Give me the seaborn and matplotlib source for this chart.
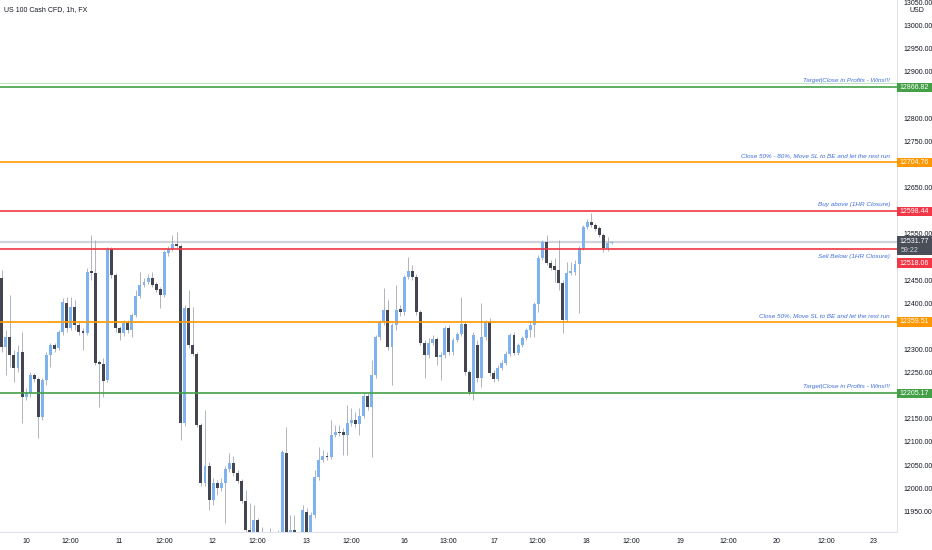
import matplotlib
matplotlib.use("Agg")
import matplotlib.pyplot as plt
import matplotlib.patches as mpatches
from matplotlib.transforms import ScaledTranslation
import pandas as pd
import seaborn as sns

# hourly candles, US 100 Cash CFD
opens = [
    12454.5, 12305.3, 12326.9, 12288.0, 12259.9, 12294.5, 12197.2, 12205.8, 12244.7, 12236.1,
    12153.9, 12233.9, 12288.0, 12309.6, 12303.1, 12337.7, 12400.4, 12346.4, 12391.8, 12352.8,
    12339.9, 12335.5, 12469.6, 12465.3, 12272.8, 12268.5, 12233.9, 12517.2, 12461.0, 12346.4,
    12335.5, 12357.2, 12342.0, 12374.5, 12415.6, 12439.4, 12445.8, 12454.5, 12441.5, 12430.7,
    12417.7, 12508.5, 12517.2, 12528.0, 12523.7, 12140.9, 12389.6, 12309.6, 12290.1, 12136.6,
    12011.2, 12048.0, 11974.5, 12011.2, 12000.4, 12011.2, 12041.5, 12054.4, 12032.8, 12015.5,
    11972.3, 11909.6, 11877.2, 11931.2, 11888.0, 11855.5, 11877.2, 11844.7, 11866.3, 11888.0,
    12076.1, 11877.2, 11909.6, 11866.3, 11888.0, 11948.5, 11898.8, 11942.0, 12024.2, 12060.9,
    12069.6, 12067.4, 12115.0, 12121.5, 12121.5, 12115.0, 12140.9, 12147.4, 12138.8, 12156.1,
    12199.3, 12175.5, 12244.7, 12326.9, 12359.3, 12385.3, 12305.3, 12352.8, 12387.4, 12380.9,
    12456.7, 12469.6, 12456.7, 12380.9, 12313.9, 12288.0, 12313.9, 12322.6, 12283.7, 12288.0,
    12346.4, 12294.5, 12320.4, 12333.4, 12355.0, 12251.2, 12208.0, 12309.6, 12238.2, 12326.9,
    12359.3, 12249.1, 12236.1, 12259.9, 12270.7, 12290.1, 12331.2, 12292.3, 12309.6, 12324.7,
    12342.0, 12352.8, 12398.2, 12497.7, 12532.3, 12486.9, 12480.4, 12471.8, 12443.7, 12363.7,
    12465.3, 12467.5, 12484.8, 12519.4, 12564.8, 12575.6, 12569.1, 12562.6, 12547.5, 12519.4,
    12530.2,
]
highs = [
    12471.8, 12342.0, 12417.7, 12298.8, 12309.6, 12337.7, 12216.6, 12251.2, 12249.1, 12240.4,
    12238.2, 12294.5, 12313.9, 12313.9, 12342.0, 12411.2, 12413.4, 12413.4, 12406.9, 12359.3,
    12346.4, 12476.1, 12547.5, 12536.6, 12277.2, 12281.5, 12521.5, 12521.5, 12465.3, 12350.7,
    12363.7, 12363.7, 12378.8, 12428.5, 12467.5, 12454.5, 12463.1, 12467.5, 12445.8, 12435.0,
    12515.0, 12523.7, 12547.5, 12554.0, 12528.0, 12396.1, 12428.5, 12391.8, 12294.5, 12140.9,
    12169.1, 12056.6, 12022.0, 12017.7, 12022.0, 12048.0, 12076.1, 12069.6, 12039.3, 12019.9,
    11996.1, 11968.0, 11963.6, 11935.6, 11916.1, 11892.3, 11913.9, 11898.8, 11909.6, 12082.6,
    12132.3, 11942.0, 11942.0, 11905.3, 11963.6, 11957.2, 11948.5, 12039.3, 12089.1, 12082.6,
    12078.2, 12147.4, 12136.6, 12136.6, 12130.1, 12179.9, 12173.4, 12164.7, 12173.4, 12205.8,
    12205.8, 12277.2, 12331.2, 12363.7, 12432.9, 12406.9, 12357.2, 12439.4, 12396.1, 12461.0,
    12499.9, 12482.6, 12463.1, 12385.3, 12320.4, 12324.7, 12331.2, 12326.9, 12294.5, 12350.7,
    12352.8, 12324.7, 12337.7, 12413.4, 12359.3, 12255.5, 12337.7, 12320.4, 12400.4, 12363.7,
    12368.0, 12255.5, 12266.3, 12277.2, 12296.6, 12335.5, 12337.7, 12313.9, 12329.1, 12346.4,
    12359.3, 12402.6, 12504.2, 12536.6, 12547.5, 12493.4, 12497.7, 12536.6, 12450.2, 12489.1,
    12489.1, 12493.4, 12523.7, 12569.1, 12582.1, 12595.0, 12573.4, 12566.9, 12551.8, 12543.1,
    12534.5,
]
lows = [
    12294.5, 12244.7, 12262.0, 12229.6, 12251.2, 12140.9, 12190.7, 12197.2, 12229.6, 12108.5,
    12147.4, 12223.1, 12262.0, 12294.5, 12298.8, 12331.2, 12337.7, 12342.0, 12342.0, 12331.2,
    12298.8, 12331.2, 12450.2, 12266.3, 12175.5, 12197.2, 12229.6, 12454.5, 12337.7, 12320.4,
    12329.1, 12335.5, 12326.9, 12370.1, 12411.2, 12435.0, 12441.5, 12435.0, 12424.2, 12389.6,
    12413.4, 12502.1, 12512.9, 12519.4, 12104.2, 12134.5, 12303.1, 12285.8, 12132.3, 12004.7,
    12004.7, 11952.8, 11963.6, 11985.3, 11993.9, 11924.7, 12035.0, 12026.3, 12011.2, 11968.0,
    11888.0, 11855.5, 11866.3, 11870.7, 11833.9, 11840.4, 11827.4, 11823.1, 11862.0, 11877.2,
    11877.2, 11870.7, 11866.3, 11855.5, 11877.2, 11888.0, 11892.3, 11935.6, 12017.7, 12056.6,
    12060.9, 12063.1, 12110.7, 12112.9, 12071.7, 12071.7, 12134.5, 12132.3, 12115.0, 12151.7,
    12169.1, 12067.4, 12238.2, 12320.4, 12352.8, 12298.8, 12223.1, 12342.0, 12372.3, 12374.5,
    12452.3, 12450.2, 12374.5, 12309.6, 12238.2, 12281.5, 12309.6, 12266.3, 12233.9, 12281.5,
    12288.0, 12288.0, 12316.1, 12329.1, 12244.7, 12201.5, 12190.7, 12229.6, 12218.8, 12320.4,
    12242.6, 12229.6, 12231.8, 12255.5, 12266.3, 12285.8, 12288.0, 12288.0, 12305.3, 12320.4,
    12326.9, 12326.9, 12380.9, 12493.4, 12482.6, 12471.8, 12445.8, 12428.5, 12335.5, 12359.3,
    12461.0, 12461.0, 12378.8, 12515.0, 12560.4, 12564.8, 12556.1, 12543.1, 12510.7, 12512.9,
    12528.0,
]
closes = [
    12305.3, 12326.9, 12288.0, 12259.9, 12294.5, 12197.2, 12208.0, 12244.7, 12236.1, 12153.9,
    12233.9, 12288.0, 12309.6, 12300.9, 12337.7, 12402.6, 12346.4, 12391.8, 12352.8, 12337.7,
    12335.5, 12467.5, 12465.3, 12270.7, 12268.5, 12231.8, 12517.2, 12461.0, 12346.4, 12335.5,
    12357.2, 12342.0, 12374.5, 12415.6, 12439.4, 12445.8, 12454.5, 12439.4, 12428.5, 12417.7,
    12510.7, 12517.2, 12528.0, 12523.7, 12140.9, 12389.6, 12309.6, 12290.1, 12136.6, 12011.2,
    12048.0, 11974.5, 12011.2, 12000.4, 12011.2, 12041.5, 12054.4, 12032.8, 12015.5, 11972.3,
    11909.6, 11877.2, 11931.2, 11888.0, 11855.5, 11877.2, 11844.7, 11866.3, 11888.0, 12078.2,
    11888.0, 11909.6, 11877.2, 11898.8, 11952.8, 11898.8, 11942.0, 12024.2, 12060.9, 12069.6,
    12067.4, 12115.0, 12121.5, 12119.3, 12115.0, 12140.9, 12147.4, 12138.8, 12156.1, 12199.3,
    12175.5, 12244.7, 12326.9, 12359.3, 12385.3, 12305.3, 12352.8, 12385.3, 12380.9, 12456.7,
    12469.6, 12456.7, 12380.9, 12313.9, 12288.0, 12313.9, 12322.6, 12283.7, 12288.0, 12346.4,
    12294.5, 12320.4, 12333.4, 12355.0, 12251.2, 12208.0, 12331.2, 12238.2, 12326.9, 12359.3,
    12249.1, 12236.1, 12259.9, 12270.7, 12290.1, 12331.2, 12292.3, 12309.6, 12324.7, 12342.0,
    12352.8, 12398.2, 12497.7, 12532.3, 12486.9, 12476.1, 12471.8, 12443.7, 12363.7, 12465.3,
    12469.6, 12484.8, 12519.4, 12564.8, 12575.6, 12569.1, 12560.4, 12547.5, 12519.4, 12530.2,
    12531.77,
]

levels = [12866.82, 12704.76, 12598.44, 12518.06, 12359.51, 12205.17]
level_notes = [
    "Target|Close in Profits - Wins!!!",
    "Close 50% - 80%, Move SL to BE and let the rest run",
    "Buy above (1HR Closure)",
    "Sell Below (1HR Closure)",
    "Close 50%, Move SL to BE and let the rest run",
    "Target|Close in Profits - Wins!!!",
]
last_price = 12531.77
countdown = "59:22"
price_ticks = list(range(11950, 13051, 50))
x_labels = ["10", "12:00", "11", "12:00", "12", "12:00", "13", "12:00", "16", "13:00",
            "17", "12:00", "18", "12:00", "19", "12:00", "20", "12:00", "23"]

# layout / style
tick_pos = [5.98, 16.97, 28.92, 39.99, 51.89, 62.96, 74.84, 85.91, 99.02, 109.84,
            121.15, 131.82, 143.88, 154.94, 166.82, 178.7, 190.6, 202.9, 214.4]
level_colors = ["#43a047", "#ff9800", "#f23645", "#f23645", "#ff9800", "#43a047"]
note_below = [False, False, False, True, False, False]
tag_shift = [0, 0, 0, 14.5, 0, 0]   # px, tag pushed down under the last-price tag
UP, DOWN, WICK = "#7fb3ef", "#434651", "#a3a7b1"
NOTE = "#3f6fdc"
TXT = "#131722"
YMIN, YMAX = 11905.3, 13055.6
XMIN, XMAX = -0.42, 220.2

df = pd.DataFrame({"open": opens, "high": highs, "low": lows, "close": closes})
df["bar"] = range(len(df))
df["up"] = df["close"] >= df["open"]
df["bottom"] = df[["open", "close"]].min(axis=1)
df["body"] = (df["close"] - df["open"]).abs().clip(lower=2.2)

sns.set_theme(style="white")
plt.rcParams["font.family"] = ["Liberation Sans Narrow", "Liberation Sans", "DejaVu Sans"]

fig = plt.figure(figsize=(9.32, 5.5), dpi=100)
ax = fig.add_axes([0, 18 / 550, 897 / 932, 532 / 550])
ax.set_facecolor("white")

ppx = (YMAX - YMIN) / 532.0   # price units per pixel

# candles
ax.vlines(df["bar"], df["low"], df["high"], color=WICK, lw=0.6, zorder=2)
ax.bar(df["bar"], df["body"], bottom=df["bottom"], width=0.72,
       color=[UP if u else DOWN for u in df["up"]], linewidth=0, zorder=3)

# last price line
ax.axhline(last_price, color="#d1d4dc", lw=1.6, zorder=1)
ax.axhline(levels[0] + 4 * ppx, color="#a5d6a7", lw=0.8, alpha=0.7, zorder=1)

# levels with notes
for lv, note, col, below in zip(levels, level_notes, level_colors, note_below):
    ax.axhline(lv, color=col, lw=1.2, zorder=4)
    dy = -8 * ppx if below else 6.5 * ppx
    ax.text(218.5, lv + dy, note, ha="right", va="center", fontsize=4.6,
            style="italic", color=NOTE, zorder=5)

ax.set_xlim(XMIN, XMAX)
ax.set_ylim(YMIN, YMAX)

# price scale labels hidden where a tag sits on top of them
tag_centres = [lv - sh * ppx for lv, sh in zip(levels, tag_shift)] + [last_price - 3 * ppx]
shown = []
for v in price_ticks:
    near = min(abs(v - c) for c in tag_centres)
    shown.append("" if near < 10 * ppx else f"{v:.2f}")

ax.set_xticks(tick_pos)
ax.set_xticklabels(x_labels)
ax.yaxis.tick_right()
ax.set_yticks(price_ticks)
ax.set_yticklabels(shown)
ax.tick_params(axis="both", length=0, labelsize=5, colors=TXT)
ax.tick_params(axis="y", pad=5)
ax.tick_params(axis="x", pad=4)

sns.despine(ax=ax, left=True, top=True, right=False, bottom=False)
for side in ("right", "bottom"):
    ax.spines[side].set_color("#e0e3eb")
    ax.spines[side].set_linewidth(0.8)

# price tags on the right scale
def price_tag(y, text, color, shift_px=0, h_px=9.5):
    tr = ax.get_yaxis_transform() + ScaledTranslation(0, -shift_px / 100, fig.dpi_scale_trans)
    rect = mpatches.Rectangle((1.0, y - h_px / 2 * ppx), 35 / 897, h_px * ppx,
                              transform=tr, facecolor=color, edgecolor="none",
                              clip_on=False, zorder=10)
    ax.add_patch(rect)
    ax.text(1.0 + 17.5 / 897, y, text, transform=tr, ha="center", va="center",
            fontsize=5, color="white", clip_on=False, zorder=11)

for lv, col, sh in zip(levels, level_colors, tag_shift):
    price_tag(lv, f"{lv:.2f}", col, sh)

# last price tag with countdown
tr = ax.get_yaxis_transform()
ax.add_patch(mpatches.Rectangle((1.0, last_price - 13 * ppx), 35 / 897, 19.5 * ppx,
                                transform=tr, facecolor="#4a4e59", edgecolor="none",
                                clip_on=False, zorder=10))
ax.text(1.0 + 17.5 / 897, last_price + 1 * ppx, f"{last_price:.2f}", transform=tr,
        ha="center", va="center", fontsize=5, color="white", clip_on=False, zorder=11)
ax.text(1.0 + 4 / 897, last_price - 8 * ppx, countdown, transform=tr,
        ha="left", va="center", fontsize=5, color="#d1d4dc", clip_on=False, zorder=11)

fig.text(917 / 932, 1 - 11 / 550, "USD", ha="center", va="center", fontsize=5, color=TXT,
         bbox=dict(facecolor="white", edgecolor="none", pad=1.5), zorder=12)
fig.text(4 / 932, 1 - 10 / 550, "US 100 Cash CFD, 1h, FX", ha="left", va="center",
         fontsize=5.0, color=TXT)

fig.savefig("out.png", dpi=100, facecolor="white")
